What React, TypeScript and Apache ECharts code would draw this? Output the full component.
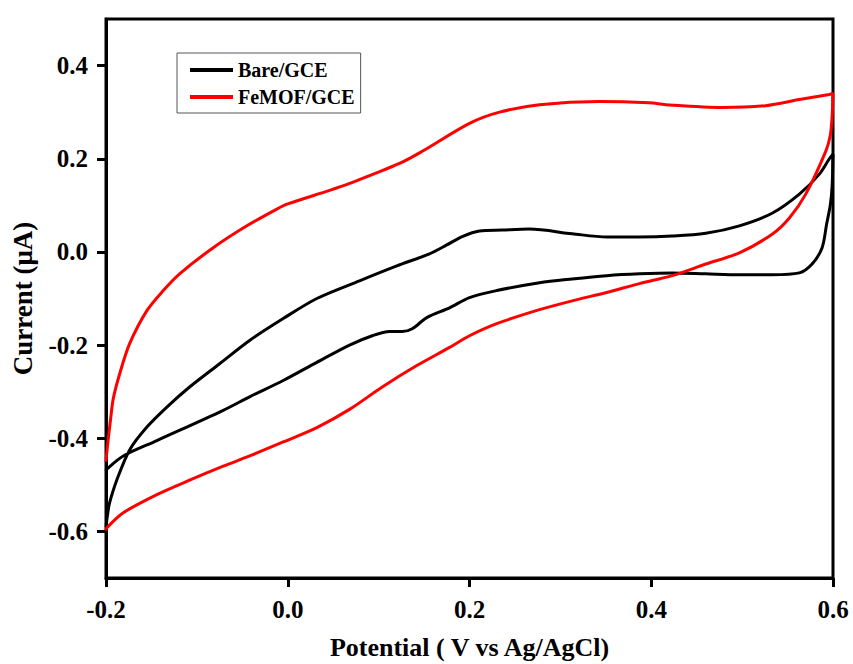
import React, { useEffect, useRef } from "react";
import * as echarts from "echarts";

// Bare/GCE cyclic voltammogram (forward scan then reverse scan)
const bareV = [
  -0.2, -0.198, -0.196, -0.188, -0.174, -0.155, -0.133, -0.108, -0.075, -0.042, -0.005, 0.032, 0.079,
  0.12, 0.156, 0.175, 0.192, 0.211, 0.236, 0.266, 0.313, 0.351, 0.387, 0.423, 0.46, 0.497, 0.533,
  0.563, 0.585, 0.596, 0.6,
  0.599, 0.597, 0.593, 0.588, 0.577, 0.563, 0.533, 0.497, 0.46, 0.423, 0.387, 0.351, 0.313, 0.277,
  0.23, 0.2, 0.178, 0.153, 0.137, 0.126, 0.112, 0.093, 0.068, 0.032, -0.005, -0.042, -0.071, -0.144,
  -0.181, -0.199, -0.2,
];
const bareI = [
  -0.59, -0.56, -0.538, -0.489, -0.425, -0.376, -0.333, -0.29, -0.24, -0.19, -0.143, -0.1, -0.062,
  -0.03, -0.004, 0.015, 0.033, 0.045, 0.047, 0.049, 0.039, 0.032, 0.032, 0.034, 0.04, 0.056, 0.083,
  0.124, 0.167, 0.2, 0.21,
  0.14, 0.1, 0.06, 0.009, -0.026, -0.045, -0.049, -0.049, -0.047, -0.045, -0.047, -0.051, -0.058,
  -0.066, -0.083, -0.098, -0.12, -0.141, -0.165, -0.171, -0.171, -0.18, -0.2, -0.237, -0.276, -0.311,
  -0.34, -0.405, -0.438, -0.466, -0.47,
];

// FeMOF/GCE cyclic voltammogram
const femofV = [
  -0.2, -0.198, -0.195, -0.192, -0.185, -0.174, -0.155, -0.137, -0.119, -0.082, -0.045, -0.012, 0.0,
  0.046, 0.068, 0.123, 0.148, 0.2, 0.233, 0.277, 0.343, 0.398, 0.416, 0.478, 0.526, 0.563, 0.596, 0.6,
  0.599, 0.597, 0.592, 0.57, 0.552, 0.533, 0.497, 0.46, 0.423, 0.387, 0.351, 0.313, 0.277, 0.23, 0.2,
  0.178, 0.142, 0.104, 0.068, 0.032, -0.005, -0.042, -0.071, -0.108, -0.144, -0.181, -0.199, -0.2,
];
const femofI = [
  -0.45, -0.41, -0.36, -0.315, -0.262, -0.197, -0.126, -0.083, -0.047, 0.009, 0.056, 0.092, 0.103,
  0.132, 0.147, 0.19, 0.216, 0.276, 0.3, 0.316, 0.323, 0.32, 0.316, 0.31, 0.314, 0.327, 0.338, 0.34,
  0.29, 0.25, 0.216, 0.124, 0.073, 0.038, -0.002, -0.026, -0.051, -0.068, -0.087, -0.105, -0.124,
  -0.154, -0.18, -0.205, -0.244, -0.29, -0.338, -0.377, -0.408, -0.438, -0.46, -0.49, -0.521, -0.56,
  -0.592, -0.598,
];

const xTicks = [-0.2, 0.0, 0.2, 0.4, 0.6];
const yTicks = [-0.6, -0.4, -0.2, 0.0, 0.2, 0.4];
const seriesNames = ["Bare/GCE", "FeMOF/GCE"];
const seriesColors = ["#000000", "#ff0000"];

const FONT = '"Liberation Serif", "Times New Roman", serif';

const fmt = (v: number) => {
  const s = v.toFixed(1);
  return s === "-0.0" ? "0.0" : s;
};

export default function App() {
  const ref = useRef<HTMLDivElement>(null);
  useEffect(() => {
    if (!ref.current) return;
    const chart = echarts.init(ref.current, undefined, { renderer: "svg" });
    const pair = (xs: number[], ys: number[]) => xs.map((x, i) => [x, ys[i]]);
    const axisCommon = {
      axisLine: { show: true, onZero: false, lineStyle: { color: "#000", width: 3 } },
      axisTick: { show: true, inside: false, length: 9, lineStyle: { color: "#000", width: 3 } },
      splitLine: { show: false },
    };
    chart.setOption({
      animation: false,
      backgroundColor: "#fff",
      grid: {
        left: 106,
        right: 20,
        top: 19,
        bottom: 86,
        outerBoundsMode: "none",
        containLabel: false,
        show: true,
        borderColor: "#000",
        borderWidth: 3,
        backgroundColor: "transparent",
      },
      legend: {
        orient: "vertical",
        left: 177,
        top: 53,
        data: seriesNames,
        icon: "rect",
        itemWidth: 43,
        itemHeight: 4,
        itemGap: 7,
        padding: [7, 6, 6, 13],
        borderColor: "#555",
        borderWidth: 1,
        backgroundColor: "#fff",
        textStyle: { fontFamily: FONT, fontWeight: "bold", fontSize: 20, color: "#000" },
      },
      xAxis: {
        type: "value",
        min: -0.2,
        max: 0.6,
        ...axisCommon,
        axisTick: { ...axisCommon.axisTick, customValues: xTicks },
        axisLabel: {
          customValues: xTicks,
          formatter: (v: number) => fmt(v),
          margin: 19,
          fontFamily: FONT,
          fontWeight: "bold",
          fontSize: 25,
          color: "#000",
        },
        name: "Potential ( V vs Ag/AgCl)",
        nameLocation: "middle",
        nameGap: 56,
        nameTextStyle: { fontFamily: FONT, fontWeight: "bold", fontSize: 26, color: "#000" },
      },
      yAxis: {
        type: "value",
        min: -0.7,
        max: 0.5,
        ...axisCommon,
        axisTick: { ...axisCommon.axisTick, customValues: yTicks },
        axisLabel: {
          customValues: yTicks,
          formatter: (v: number) => fmt(v),
          margin: 18,
          fontFamily: FONT,
          fontWeight: "bold",
          fontSize: 25,
          color: "#000",
        },
        name: "Current (\u03bcA)",
        nameLocation: "middle",
        nameGap: 70,
        nameRotate: 90,
        nameTextStyle: { fontFamily: FONT, fontWeight: "bold", fontSize: 27, color: "#000" },
      },
      series: [
        {
          name: seriesNames[0],
          type: "line",
          data: pair(bareV, bareI),
          showSymbol: false,
          smooth: 0.3,
          lineStyle: { color: seriesColors[0], width: 3 },
          itemStyle: { color: seriesColors[0] },
        },
        {
          name: seriesNames[1],
          type: "line",
          data: pair(femofV, femofI),
          showSymbol: false,
          smooth: 0.3,
          lineStyle: { color: seriesColors[1], width: 3 },
          itemStyle: { color: seriesColors[1] },
        },
      ],
    });
    return () => chart.dispose();
  }, []);
  return <div ref={ref} style={{ width: 853, height: 664, position: "absolute", left: 0, top: 0 }} />;
}
